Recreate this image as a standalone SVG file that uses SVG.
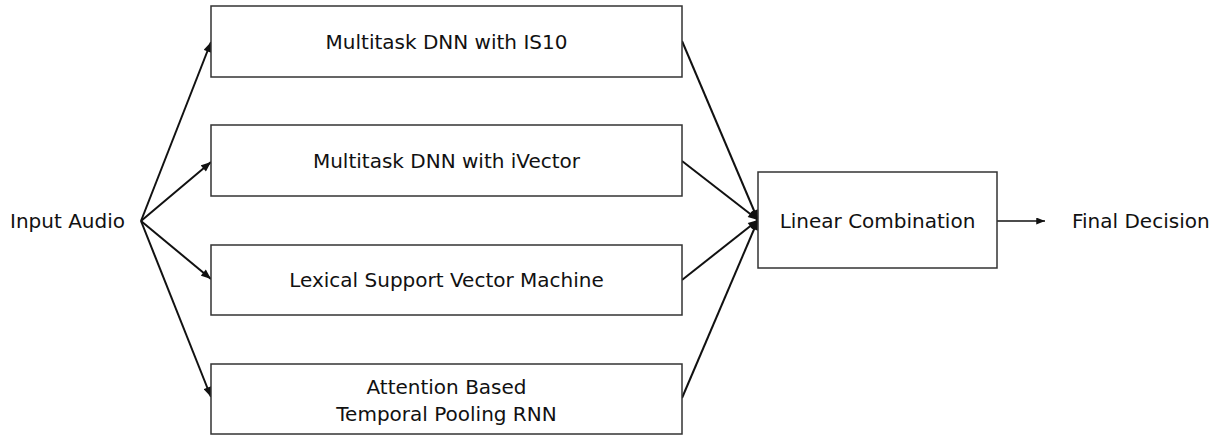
<svg xmlns="http://www.w3.org/2000/svg" width="1219" height="435" viewBox="0 0 1219 435">
  <style>
    .box { fill: #ffffff; stroke: #333333; stroke-width: 1.5; }
    .lbl { font-family: "DejaVu Sans", Verdana, sans-serif; font-size: 20px; fill: #111111; }
    .mid { text-anchor: middle; }
    .edge { stroke: #111111; stroke-width: 2; fill: none; }
    .thin { stroke: #111111; stroke-width: 1.4; fill: none; }
  </style>
  <defs>
    <marker id="arrow" viewBox="0 0 10 8" refX="10" refY="4" markerWidth="11" markerHeight="8" markerUnits="userSpaceOnUse" orient="auto">
      <path d="M0,0 L10,4 L0,8 Z" fill="#111111"/>
    </marker>
    <marker id="arrowSmall" viewBox="0 0 10 8" refX="10" refY="4" markerWidth="10" markerHeight="7" markerUnits="userSpaceOnUse" orient="auto">
      <path d="M0,0 L10,4 L0,8 Z" fill="#111111"/>
    </marker>
  </defs>
  <rect width="1219" height="435" fill="#ffffff"/>

  <g id="connectors">
    <line class="edge" x1="141" y1="221" x2="211" y2="42" marker-end="url(#arrow)"/>
    <line class="edge" x1="141" y1="221" x2="211" y2="162" marker-end="url(#arrow)"/>
    <line class="edge" x1="141" y1="221" x2="211" y2="279" marker-end="url(#arrow)"/>
    <line class="edge" x1="141" y1="221" x2="211" y2="397" marker-end="url(#arrow)"/>
    <line class="edge" x1="682" y1="41" x2="758" y2="220" marker-end="url(#arrow)"/>
    <line class="edge" x1="682" y1="161" x2="758" y2="220" marker-end="url(#arrow)"/>
    <line class="edge" x1="682" y1="280" x2="758" y2="220" marker-end="url(#arrow)"/>
    <line class="edge" x1="682" y1="398" x2="758" y2="220" marker-end="url(#arrow)"/>
    <line class="thin" x1="997" y1="221" x2="1045" y2="221" marker-end="url(#arrowSmall)"/>
  </g>

  <g id="input-audio">
    <text class="lbl" x="10" y="228">Input Audio</text>
  </g>

  <g id="dnn-is10">
    <rect class="box" x="211" y="6" width="471" height="71"/>
    <text class="lbl mid" x="446.5" y="48.5">Multitask DNN with IS10</text>
  </g>

  <g id="dnn-ivector">
    <rect class="box" x="211" y="125" width="471" height="71"/>
    <text class="lbl mid" x="446.5" y="167.5">Multitask DNN with iVector</text>
  </g>

  <g id="lexical-svm">
    <rect class="box" x="211" y="245" width="471" height="70"/>
    <text class="lbl mid" x="446.5" y="287">Lexical Support Vector Machine</text>
  </g>

  <g id="attention-rnn">
    <rect class="box" x="211" y="364" width="471" height="70"/>
    <text class="lbl mid" x="446.5" y="394">Attention Based</text>
    <text class="lbl mid" x="446.5" y="421">Temporal Pooling RNN</text>
  </g>

  <g id="linear-combination">
    <rect class="box" x="758" y="172" width="239" height="96"/>
    <text class="lbl mid" x="877.5" y="227.5">Linear Combination</text>
  </g>

  <g id="final-decision">
    <text class="lbl" x="1072" y="228">Final Decision</text>
  </g>
</svg>
